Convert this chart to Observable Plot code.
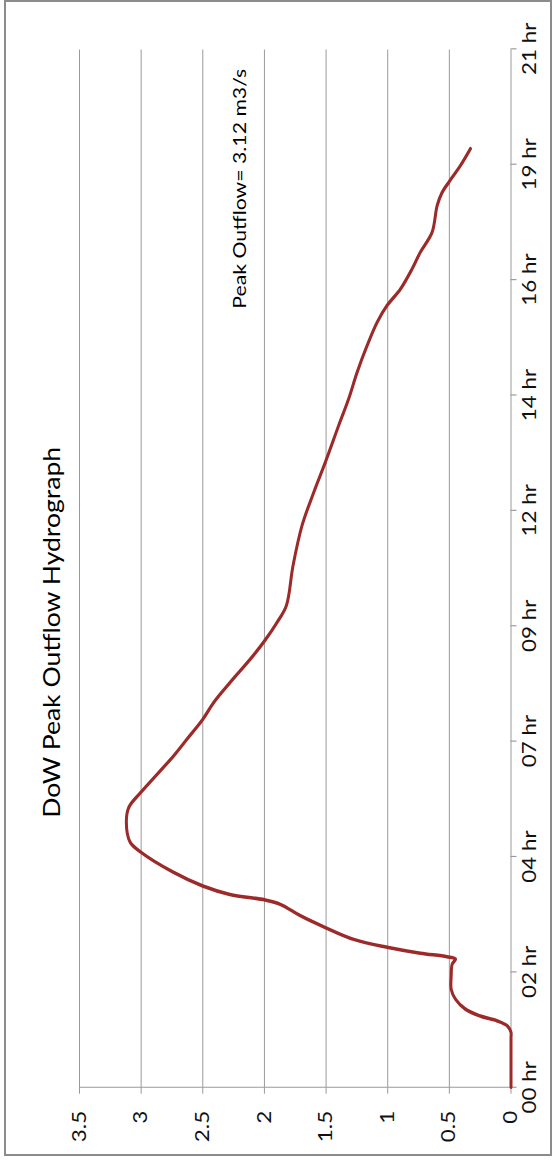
<!DOCTYPE html>
<html>
<head>
<meta charset="utf-8">
<script src="https://cdn.jsdelivr.net/npm/d3@7"></script>
<script src="https://cdn.jsdelivr.net/npm/@observablehq/plot@0.6"></script>
<style>
  html, body { margin: 0; padding: 0; background: #fff; overflow: hidden; }
  body { width: 553px; height: 1161px; position: relative; }
  #frame { position: absolute; left: 4px; top: 0px; width: 548px; height: 1156px; box-sizing: border-box; border: 2px solid #8c8c8c; pointer-events: none; z-index: 5; background: transparent; }
  #chart { position: absolute; left: 0; top: 0; width: 984px; height: 553px; transform-origin: 0 0; transform: translateY(1161px) rotate(-90deg) scaleX(1.18); z-index: 1; }
  #title { margin: 38px 0 0 0; height: 28px; line-height: 28px; padding-right: 88px; text-align: center; font-family: Lato, "Open Sans", sans-serif; font-size: 22.5px; color: #000; }
  #chart svg { display: block; }
</style>
</head>
<body>
<div id="chart"><div id="title">DoW Peak Outflow Hydrograph</div></div>
<div id="frame"></div>
<script>
// Time (hours) and outflow (m3/s)
const hours = [0, 0.5, 1.0, 1.11, 1.24, 1.34, 1.44, 1.58, 1.78, 1.98, 2.25, 2.49, 2.59, 2.64, 2.71, 2.83, 2.99, 3.23, 3.47, 3.70, 3.79, 3.90, 4.07, 4.35, 4.75, 4.96, 5.36, 5.66, 5.97, 6.70, 7.04, 7.44, 7.78, 8.19, 8.66, 9.03, 9.40, 9.74, 10.55, 11.36, 12.03, 12.64, 13.38, 13.92, 14.46, 15.0, 15.47, 15.81, 16.14, 16.55, 16.89, 17.29, 17.83, 18.10, 18.30, 18.64, 18.98];
const outflow = [0, 0, 0, 0, 0.03, 0.11, 0.25, 0.37, 0.45, 0.485, 0.485, 0.477, 0.45, 0.52, 0.735, 1.005, 1.276, 1.506, 1.709, 1.871, 2.0, 2.28, 2.50, 2.74, 3.0, 3.09, 3.12, 3.10, 3.0, 2.737, 2.628, 2.50, 2.412, 2.277, 2.114, 1.998, 1.898, 1.822, 1.768, 1.695, 1.60, 1.506, 1.398, 1.317, 1.248, 1.167, 1.086, 1.005, 0.897, 0.802, 0.735, 0.64, 0.599, 0.558, 0.505, 0.41, 0.329];

const timeTicks = [0, 2.333, 4.667, 7, 9.333, 11.667, 14, 16.333, 18.667, 21];
const timeTickLabels = ["00 hr", "02 hr", "04 hr", "07 hr", "09 hr", "12 hr", "14 hr", "16 hr", "19 hr", "21 hr"];
const flowTicks = [0, 0.5, 1, 1.5, 2, 2.5, 3, 3.5];
const flowTickLabels = ["0", "0.5", "1", "1.5", "2", "2.5", "3", "3.5"];

const annotationText = ["Peak Outflow= 3.12 m3/s"];
const annotationHour = [18.17];
const annotationFlow = [2.2];

const data = hours.map((t, i) => ({t, q: outflow[i]}));
const notes = annotationText.map((s, i) => ({t: annotationHour[i], q: annotationFlow[i], s}));

const chart = Plot.plot({
  width: 984,
  height: 487,
  marginLeft: 62,
  marginRight: 42,
  marginTop: 13,
  marginBottom: 42.5,
  x: {domain: [0, 21]},
  y: {domain: [0, 3.5]},
  style: {fontFamily: "Lato, 'Open Sans', sans-serif", fontSize: "19px", color: "#111", background: "transparent", overflow: "visible"},
  marks: [
    Plot.gridY(flowTicks.slice(1), {stroke: "#9a9a9a", strokeOpacity: 1}),
    Plot.ruleX([0], {stroke: "#9a9a9a"}),
    Plot.ruleY([0], {stroke: "#9a9a9a"}),
    Plot.axisX({ticks: timeTicks, tickFormat: d => timeTickLabels[timeTicks.indexOf(d)], tickSize: 6, tickPadding: 5, stroke: "#9a9a9a", fill: "#111", label: null}),
    Plot.axisY({ticks: flowTicks, tickFormat: d => flowTickLabels[flowTicks.indexOf(d)], tickSize: 5, tickPadding: 15, stroke: "#9a9a9a", fill: "#111", label: null}),
    Plot.line(data, {x: "t", y: "q", stroke: "#9b2a29", strokeWidth: 3, curve: "catmull-rom"}),
    Plot.text(notes, {x: "t", y: "q", text: "s", fontSize: 18, fill: "#000", textAnchor: "middle", lineAnchor: "middle"})
  ]
});
document.getElementById("chart").appendChild(chart);
</script>
</body>
</html>
